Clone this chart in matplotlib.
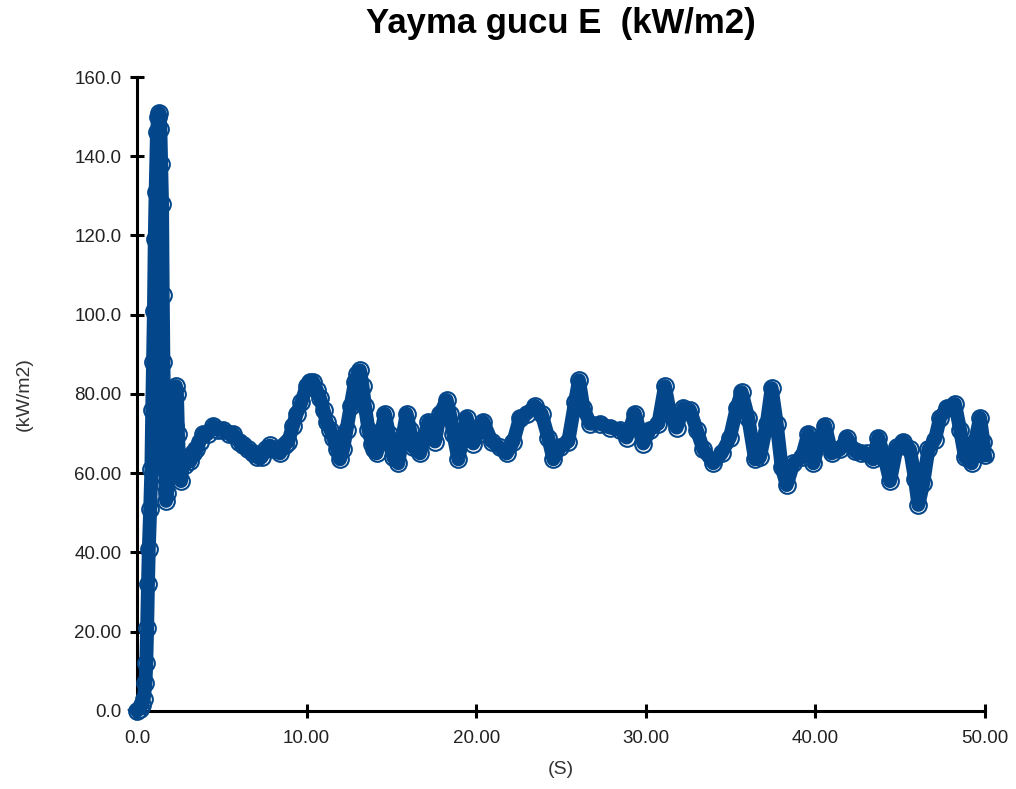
import matplotlib
matplotlib.use("Agg")
import matplotlib.pyplot as plt
from matplotlib.ticker import FixedLocator, FixedFormatter

plt.rcParams['font.family'] = ['Liberation Sans', 'DejaVu Sans']

# time (s) and radiant power E (kW/m2)
time_s = [
    0.0, 0.15, 0.3, 0.4, 0.5, 0.55, 0.6, 0.65, 0.7, 0.78,
    0.85, 0.9, 0.95, 1.0, 1.05, 1.1, 1.18, 1.25, 1.32, 1.38,
    1.43, 1.48, 1.52, 1.56, 1.6, 1.64, 1.68, 1.72, 1.78, 1.85,
    1.92, 2.0, 2.08, 2.15, 2.22, 2.3, 2.36, 2.42, 2.5, 2.6,
    2.7, 2.83, 3.0, 3.15, 3.32, 3.5, 3.7, 3.91, 4.2, 4.5,
    4.8, 5.09, 5.4, 5.68, 6.0, 6.27, 6.55, 6.86, 7.1, 7.35,
    7.6, 7.84, 8.1, 8.43, 8.7, 8.92, 9.2, 9.42, 9.7, 10.0,
    10.2, 10.4, 10.6, 10.79, 11.0, 11.18, 11.4, 11.57, 11.8, 11.97,
    12.15, 12.36, 12.6, 12.85, 13.0, 13.15, 13.3, 13.44, 13.65, 13.84,
    14.0, 14.13, 14.4, 14.62, 14.85, 15.11, 15.41, 15.65, 15.9, 16.1,
    16.29, 16.69, 16.95, 17.18, 17.4, 17.57, 17.87, 18.26, 18.45, 18.65,
    18.95, 19.2, 19.44, 19.83, 20.1, 20.42, 20.91, 21.4, 21.8, 22.19,
    22.58, 22.98, 23.47, 23.86, 24.25, 24.55, 24.94, 25.43, 25.83, 26.06,
    26.32, 26.71, 27.3, 27.89, 28.48, 28.87, 29.36, 29.85, 30.25, 30.74,
    31.13, 31.43, 31.82, 32.21, 32.6, 33.0, 33.39, 33.98, 34.47, 34.96,
    35.36, 35.65, 36.04, 36.44, 36.73, 37.13, 37.42, 37.72, 38.01, 38.31,
    38.7, 39.19, 39.58, 39.88, 40.27, 40.57, 40.96, 41.45, 41.85, 42.33,
    42.7, 43.02, 43.41, 43.71, 44.1, 44.4, 44.79, 45.18, 45.58, 45.87,
    46.07, 46.36, 46.66, 47.05, 47.35, 47.74, 48.23, 48.53, 48.82, 49.22,
    49.41, 49.71, 49.9, 50.0,
]
power_kw = [
    0, 0.5, 1.5, 3, 7, 12, 21, 32, 41, 51,
    61, 76, 88, 101, 119, 131, 146, 150, 151, 147,
    138, 128, 105, 88, 76, 66, 57, 53, 55, 63,
    72, 78, 70, 60, 72, 82, 80, 70, 61, 58,
    63, 62, 64, 63, 65, 66, 68, 70, 70, 72,
    71, 71, 70, 70, 68, 67, 66, 65, 64, 64,
    66, 67, 66, 65, 67, 68, 72, 75, 78, 82,
    83, 83, 81, 79, 76, 73, 71, 69, 66, 63.5,
    66, 71, 77, 83, 85, 86, 82, 77, 71, 67.5,
    66, 65, 70, 75, 70, 64, 62.5, 69, 75, 71,
    66.5, 65, 69, 73, 70, 68, 75, 78.5, 75, 70,
    63.5, 69, 74, 67.5, 70, 73, 68, 66.5, 65, 68,
    74, 75, 77, 75, 69, 63.5, 66.5, 68, 78, 83.5,
    76.5, 72.5, 72.5, 71.5, 71, 69, 75, 67.5, 71, 72.5,
    82, 75, 71.5, 76.5, 76, 71, 66, 62.5, 65, 69,
    76.5, 80.5, 74, 63.5, 64, 72.5, 81.5, 72.5, 61.5, 57,
    62.5, 64, 70, 62.5, 68.5, 72, 65, 66, 69, 65.5,
    65, 65, 63.5, 69, 63.5, 58, 66.5, 68, 66, 58.5,
    52, 57.5, 66, 68.5, 74, 76.5, 77.5, 71, 64, 62.5,
    68, 74, 68, 64.5,
]

x_ticks = [0, 10, 20, 30, 40, 50]
x_labels = ["0.0", "10.00", "20.00", "30.00", "40.00", "50.00"]
y_ticks = [0, 20, 40, 60, 80, 100, 120, 140, 160]
y_labels = ["0.0", "20.00", "40.00", "60.00", "80.00", "100.0", "120.0", "140.0", "160.0"]

color = '#03468a'

fig = plt.figure(figsize=(10.16, 7.89), dpi=100)
ax = fig.add_axes([0.1348, 0.0989, 0.8347, 0.8035])

ax.plot(time_s, power_kw, color=color, linewidth=10, marker='o', markersize=12,
        markerfacecolor='none', markeredgecolor=color, markeredgewidth=1.5,
        solid_joinstyle='round', clip_on=False, zorder=3)

ax.set_xlim(0, 50)
ax.set_ylim(0, 160)
ax.xaxis.set_major_locator(FixedLocator(x_ticks))
ax.xaxis.set_major_formatter(FixedFormatter(x_labels))
ax.yaxis.set_major_locator(FixedLocator(y_ticks))
ax.yaxis.set_major_formatter(FixedFormatter(y_labels))

for side in ['top', 'right']:
    ax.spines[side].set_visible(False)
for side in ['left', 'bottom']:
    ax.spines[side].set_linewidth(2.2)
    ax.spines[side].set_color('black')

ax.tick_params(direction='inout', length=10, width=2.2, labelsize=13.5,
               labelcolor='#222222')
ax.tick_params(axis='x', pad=9)
ax.tick_params(axis='y', pad=6)

ax.set_title("Yayma gucu E  (kW/m2)", fontsize=25, fontweight='bold', pad=32)
ax.set_xlabel("(S)", fontsize=14, color='#333333', labelpad=10)
ax.set_ylabel("(kW/m2)", fontsize=14, color='#333333', labelpad=30)

fig.savefig("out.png", dpi=100)
